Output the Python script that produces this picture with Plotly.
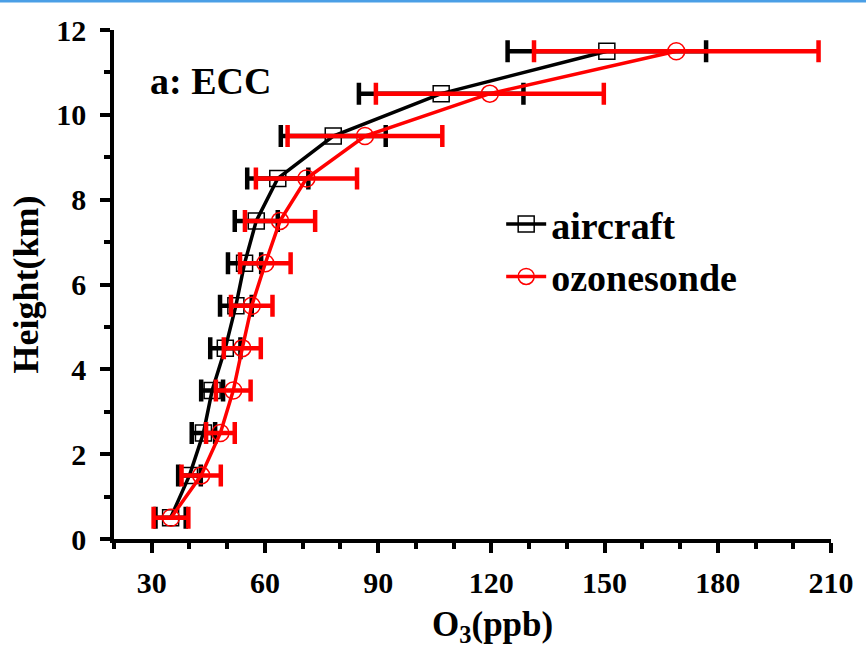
import plotly.graph_objects as go

heights = [0.5, 1.5, 2.5, 3.5, 4.5, 5.5, 6.5, 7.5, 8.5, 9.5, 10.5, 11.5]
aircraft = [35.0, 40.0, 43.7, 46.0, 49.5, 52.3, 54.6, 57.7, 63.4, 78.1, 106.7, 150.6]
aircraft_err = [4.0, 3.0, 3.1, 2.9, 4.0, 4.2, 4.4, 5.7, 8.1, 13.9, 21.8, 26.3]
ozonesonde = [35.1, 43.1, 48.2, 51.6, 54.0, 56.5, 60.1, 64.0, 71.0, 86.5, 119.6, 169.0]
ozonesonde_err = [4.6, 5.2, 3.8, 4.6, 4.9, 5.5, 6.7, 9.3, 13.4, 20.5, 30.2, 37.7]

xticks = [30, 60, 90, 120, 150, 180, 210]
yticks = [0, 2, 4, 6, 8, 10, 12]

font_family = "Liberation Serif"

fig = go.Figure()
fig.add_trace(go.Scatter(
    x=aircraft, y=heights, mode="lines+markers", name="aircraft",
    line=dict(color="black", width=3.5),
    marker=dict(symbol="square-open", size=16, color="black", line=dict(width=1.5, color="black")),
    error_x=dict(type="data", array=aircraft_err, color="black", thickness=4.5, width=11, visible=True),
))
fig.add_trace(go.Scatter(
    x=ozonesonde, y=heights, mode="lines+markers", name="ozonesonde",
    line=dict(color="#ff0000", width=3.5),
    marker=dict(symbol="circle-open", size=17, color="#ff0000", line=dict(width=1.5, color="#ff0000")),
    error_x=dict(type="data", array=ozonesonde_err, color="#ff0000", thickness=4.5, width=11, visible=True),
))

axis_common = dict(
    showline=True, linecolor="black", linewidth=3.5,
    ticks="outside", ticklen=10, tickwidth=3.5, tickcolor="black",
    showgrid=False, zeroline=False,
    tickfont=dict(family=font_family, size=30, color="black", weight="bold"),
)

fig.update_xaxes(
    range=[20, 210], tickvals=xticks, ticktext=[str(v) for v in xticks],
    minor=dict(ticks="outside", ticklen=6, tickwidth=3.5, tickcolor="black", dtick=10, tick0=0),
    ticklabelstandoff=4,
    **axis_common,
)
fig.update_yaxes(
    range=[0, 12], tickvals=yticks, ticktext=[str(v) for v in yticks],
    minor=dict(ticks="outside", ticklen=6, tickwidth=3.5, tickcolor="black", dtick=1, tick0=0),
    ticklabelstandoff=8,
    title=dict(text="Height(km)", font=dict(family=font_family, size=36, color="black", weight="bold"), standoff=8),
    **axis_common,
)

# x-axis title (placed slightly right of centre as in the reference)
fig.add_annotation(
    x=0.528, y=-0.172, xref="paper", yref="paper", text="O<sub>3</sub>(ppb)", showarrow=False,
    xanchor="center", yanchor="middle",
    font=dict(family=font_family, size=35, color="black", weight="bold"),
)

fig.add_annotation(
    x=0.047, y=0.9, xref="paper", yref="paper", text="a: ECC", showarrow=False,
    xanchor="left", yanchor="middle",
    font=dict(family=font_family, size=38, color="black", weight="bold"),
)

# thin blue strip at very top of the picture
fig.add_shape(type="line", xref="paper", yref="paper",
              x0=-0.2, x1=1.1, y0=1.057, y1=1.057,
              line=dict(color="#4a9fe6", width=3))

fig.update_layout(
    width=866, height=650,
    margin=dict(l=114, r=30, t=30, b=111),
    paper_bgcolor="white", plot_bgcolor="white",
    showlegend=True,
    legend=dict(
        x=0.54, y=0.68, xanchor="left", yanchor="top",
        font=dict(family=font_family, size=38, color="black", weight="bold"),
        bgcolor="rgba(0,0,0,0)", itemwidth=40, tracegroupgap=0,
    ),
)

fig.write_html("out.html")
